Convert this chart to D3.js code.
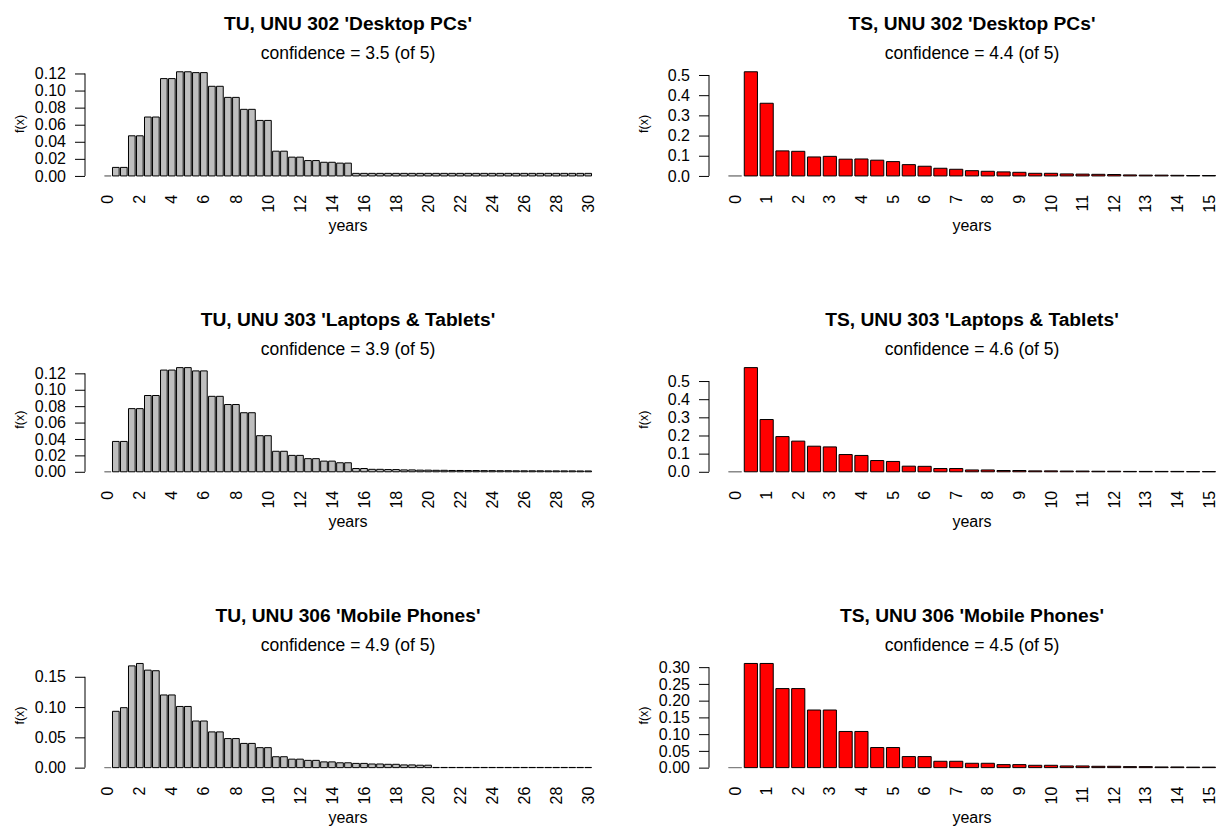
<!DOCTYPE html>
<html>
<head>
<meta charset="utf-8">
<script src="https://cdn.jsdelivr.net/npm/d3@7"></script>
<style>
  body { margin: 0; background: #fff; }
  svg text { font-family: "Liberation Sans", Arial, Helvetica, sans-serif; fill: #000; }
</style>
</head>
<body>
<svg id="chart" width="1223" height="826"></svg>
<script>
// categories (years, half-year steps)
const yearsTU = [0, 0.5, 1, 1.5, 2, 2.5, 3, 3.5, 4, 4.5, 5, 5.5, 6, 6.5, 7, 7.5, 8, 8.5, 9, 9.5, 10,
  10.5, 11, 11.5, 12, 12.5, 13, 13.5, 14, 14.5, 15, 15.5, 16, 16.5, 17, 17.5, 18, 18.5, 19, 19.5, 20,
  20.5, 21, 21.5, 22, 22.5, 23, 23.5, 24, 24.5, 25, 25.5, 26, 26.5, 27, 27.5, 28, 28.5, 29, 29.5, 30];
const yearsTS = [0, 0.5, 1, 1.5, 2, 2.5, 3, 3.5, 4, 4.5, 5, 5.5, 6, 6.5, 7, 7.5, 8, 8.5, 9, 9.5, 10,
  10.5, 11, 11.5, 12, 12.5, 13, 13.5, 14, 14.5, 15];

// tick labels
const xLabelsTU = [0, 2, 4, 6, 8, 10, 12, 14, 16, 18, 20, 22, 24, 26, 28, 30];
const xLabelsTS = [0, 1, 2, 3, 4, 5, 6, 7, 8, 9, 10, 11, 12, 13, 14, 15];
const yTicks302TU = [0, 0.02, 0.04, 0.06, 0.08, 0.10, 0.12];
const yTicks302TS = [0, 0.1, 0.2, 0.3, 0.4, 0.5];
const yTicks303TU = [0, 0.02, 0.04, 0.06, 0.08, 0.10, 0.12];
const yTicks303TS = [0, 0.1, 0.2, 0.3, 0.4, 0.5];
const yTicks306TU = [0, 0.05, 0.10, 0.15];
const yTicks306TS = [0, 0.05, 0.10, 0.15, 0.20, 0.25, 0.30];

// f(x) values
const tu302 = [0, 0.010, 0.010, 0.047, 0.047, 0.069, 0.069, 0.114, 0.114, 0.122, 0.122,
  0.121, 0.121, 0.105, 0.105, 0.092, 0.092, 0.078, 0.078, 0.065, 0.065,
  0.029, 0.029, 0.022, 0.022, 0.018, 0.018, 0.016, 0.016, 0.015, 0.015,
  0.003, 0.003, 0.003, 0.003, 0.003, 0.003, 0.003, 0.003, 0.003, 0.003,
  0.003, 0.003, 0.003, 0.003, 0.003, 0.003, 0.003, 0.003, 0.003, 0.003,
  0.003, 0.003, 0.003, 0.003, 0.003, 0.003, 0.003, 0.003, 0.003, 0.003];
const ts302 = [0, 0.516, 0.360, 0.124, 0.122, 0.094, 0.097, 0.083, 0.084, 0.078, 0.071,
  0.056, 0.048, 0.038, 0.033, 0.026, 0.023, 0.020, 0.018, 0.013, 0.013,
  0.010, 0.009, 0.008, 0.007, 0.005, 0.004, 0.004, 0.003, 0.002, 0.002];
const tu303 = [0, 0.037, 0.037, 0.077, 0.077, 0.093, 0.093, 0.124, 0.124, 0.127, 0.127,
  0.123, 0.123, 0.092, 0.092, 0.082, 0.082, 0.072, 0.072, 0.044, 0.044,
  0.025, 0.025, 0.020, 0.020, 0.016, 0.016, 0.013, 0.013, 0.011, 0.011,
  0.004, 0.004, 0.003, 0.003, 0.0027, 0.0027, 0.0023, 0.0023, 0.002, 0.002,
  0.0018, 0.0018, 0.0016, 0.0016, 0.0015, 0.0015, 0.0014, 0.0014, 0.0013, 0.0013,
  0.0012, 0.0012, 0.0012, 0.0012, 0.0011, 0.0011, 0.0011, 0.0011, 0.001, 0.001];
const ts303 = [0, 0.574, 0.288, 0.194, 0.169, 0.141, 0.137, 0.095, 0.090, 0.062, 0.057,
  0.031, 0.030, 0.018, 0.018, 0.010, 0.010, 0.007, 0.007, 0.005, 0.005,
  0.004, 0.004, 0.003, 0.003, 0.002, 0.002, 0.002, 0.002, 0.001, 0.001];
const tu306 = [0, 0.093, 0.099, 0.168, 0.172, 0.161, 0.160, 0.120, 0.120, 0.101, 0.101,
  0.077, 0.077, 0.059, 0.059, 0.048, 0.048, 0.040, 0.040, 0.033, 0.033,
  0.018, 0.018, 0.014, 0.014, 0.012, 0.012, 0.0095, 0.0095, 0.008, 0.008,
  0.007, 0.007, 0.006, 0.006, 0.0055, 0.0055, 0.0045, 0.0045, 0.004, 0.004,
  0.0003, 0.0003, 0.0003, 0.0003, 0.0003, 0.0003, 0.0003, 0.0003, 0.0003, 0.0003,
  0.0003, 0.0003, 0.0003, 0.0003, 0.0003, 0.0003, 0.0003, 0.0003, 0.0003, 0.0003];
const ts306 = [0, 0.311, 0.311, 0.236, 0.236, 0.172, 0.172, 0.108, 0.108, 0.060, 0.060,
  0.033, 0.033, 0.019, 0.019, 0.013, 0.013, 0.009, 0.009, 0.007, 0.007,
  0.005, 0.005, 0.004, 0.004, 0.003, 0.003, 0.002, 0.002, 0.0015, 0.0015];

const titles = [
  "TU, UNU 302 'Desktop PCs'", "TS, UNU 302 'Desktop PCs'",
  "TU, UNU 303 'Laptops & Tablets'", "TS, UNU 303 'Laptops & Tablets'",
  "TU, UNU 306 'Mobile Phones'", "TS, UNU 306 'Mobile Phones'"
];
const confidences = ["3.5", "4.4", "3.9", "4.6", "4.9", "4.5"];

const SVG = d3.select("#chart");
const COLLEFT = [85, 709]; // plot region left edge per column
const PLOTW = 526;
const PLOTH = 112.5;
const ROWTOP = 67.6;
const ROWSTEP = 295.85;

const panels = [
  { values: tu302, years: yearsTU, labels: xLabelsTU, ticks: yTicks302TU, dec: 2, fill: "#bebebe" },
  { values: ts302, years: yearsTS, labels: xLabelsTS, ticks: yTicks302TS, dec: 1, fill: "#ff0000" },
  { values: tu303, years: yearsTU, labels: xLabelsTU, ticks: yTicks303TU, dec: 2, fill: "#bebebe" },
  { values: ts303, years: yearsTS, labels: xLabelsTS, ticks: yTicks303TS, dec: 1, fill: "#ff0000" },
  { values: tu306, years: yearsTU, labels: xLabelsTU, ticks: yTicks306TU, dec: 2, fill: "#bebebe" },
  { values: ts306, years: yearsTS, labels: xLabelsTS, ticks: yTicks306TS, dec: 2, fill: "#ff0000" }
];

const drawPanel = (p, i) => {
  const col = i % 2;
  const row = Math.floor(i / 2);
  const left = COLLEFT[col];
  const top = ROWTOP + ROWSTEP * row;
  const n = p.years.length;

  // mimic R barplot: width 1, space 0.2, 4% axis extension
  const outer = (0.04 * (1.2 * n - 0.2)) / 1.2;
  const xScale = d3.scaleBand()
    .domain(p.years)
    .range([left, left + PLOTW])
    .paddingInner(0.2 / 1.2)
    .paddingOuter(outer);

  const ymax = d3.max(p.values);
  const yScale = d3.scaleLinear()
    .domain([-0.04 * ymax, 1.04 * ymax])
    .range([top + PLOTH, top]);

  const g = SVG.append("g").attr("class", "panel");

  // bars (paths so that zero-height bars still show their outline)
  g.selectAll("path.bar")
    .data(p.values.map((v, j) => ({ year: p.years[j], value: v })))
    .join("path")
    .attr("class", "bar")
    .attr("d", (d) => {
      const x0 = xScale(d.year);
      const x1 = x0 + xScale.bandwidth();
      const y0 = yScale(0);
      const y1 = yScale(d.value);
      return "M" + x0 + "," + y0 + "H" + x1 + "V" + y1 + "H" + x0 + "Z";
    })
    .attr("fill", p.fill)
    .attr("stroke", (d) => (d.value === 0 ? "#808080" : "#000"))
    .attr("stroke-width", 1);

  // y axis
  const yAxis = g.append("g")
    .attr("transform", "translate(" + left + ",0)")
    .call(
      d3.axisLeft(yScale)
        .tickValues(p.ticks)
        .tickSize(10)
        .tickPadding(9)
        .tickFormat(d3.format("." + p.dec + "f"))
    );
  yAxis.select(".domain")
    .attr("d", "M0," + yScale(p.ticks[0]) + "V" + yScale(p.ticks[p.ticks.length - 1]));
  yAxis.selectAll("line").attr("stroke", "#000");
  yAxis.selectAll(".domain").attr("stroke", "#000");
  yAxis.selectAll("text")
    .style("font-size", "16px")
    .style("font-family", '"Liberation Sans", Arial, sans-serif');

  // x labels, vertical, no axis line
  const zeroY = yScale(0);
  g.selectAll("text.xlab")
    .data(p.labels)
    .join("text")
    .attr("class", "xlab")
    .attr("text-anchor", "end")
    .attr("dy", "0.35em")
    .attr("transform", (d) =>
      "translate(" + (xScale(d) + xScale.bandwidth() / 2) + "," + (zeroY + 19) + ") rotate(-90)")
    .style("font-size", "16px")
    .text((d) => d);

  const cx = left + PLOTW / 2;

  g.append("text")
    .attr("text-anchor", "middle")
    .attr("x", cx)
    .attr("y", zeroY + 55)
    .style("font-size", "16px")
    .text("years");

  g.append("text")
    .attr("text-anchor", "middle")
    .attr("transform", "translate(" + (left - 61) + "," + (top + PLOTH / 2) + ") rotate(-90)")
    .style("font-size", "12.5px")
    .text("f(x)");

  g.append("text")
    .attr("text-anchor", "middle")
    .attr("x", cx)
    .attr("y", zeroY - 146)
    .style("font-size", "19.2px")
    .style("font-weight", "bold")
    .text(titles[i]);

  g.append("text")
    .attr("text-anchor", "middle")
    .attr("x", cx)
    .attr("y", zeroY - 117)
    .style("font-size", "17.5px")
    .text("confidence = " + confidences[i] + " (of 5)");
};

panels.forEach(drawPanel);
</script>
</body>
</html>
